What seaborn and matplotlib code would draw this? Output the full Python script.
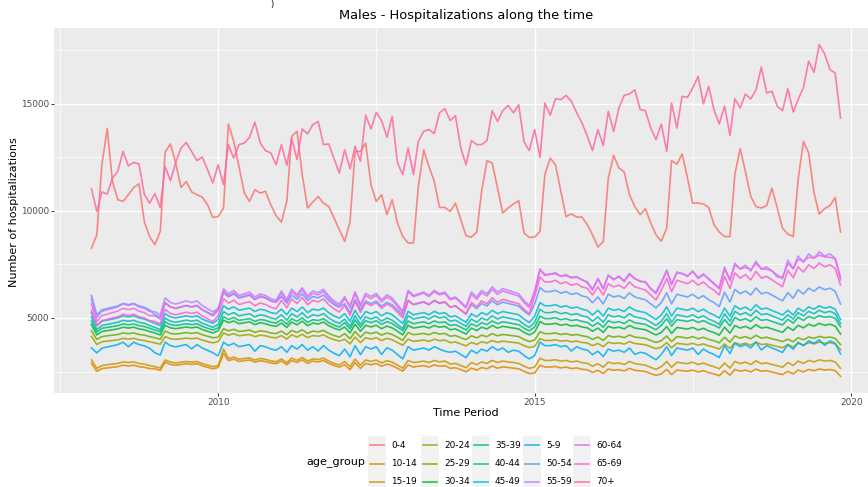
import numpy as np
import pandas as pd
import matplotlib
matplotlib.use("Agg")
import matplotlib.pyplot as plt
import matplotlib.dates as mdates
from matplotlib.patches import Rectangle
from matplotlib.lines import Line2D
import seaborn as sns

# ---------------- data ----------------
age_groups = ["0-4", "10-14", "15-19", "20-24", "25-29", "30-34", "35-39", "40-44",
              "45-49", "5-9", "50-54", "55-59", "60-64", "65-69", "70+"]
palette = ["#F8766D", "#E58700", "#C99800", "#A3A500", "#6BB100", "#00BA38", "#00BF7D",
           "#00C0AF", "#00BCD8", "#00B0F6", "#619CFF", "#B983FF", "#E76BF3", "#FD61D1", "#FF67A4"]

start_month = "2008-01-01"
n_months = 143

g_0_4 = [8260, 8880, 12150, 13830, 11370, 10520, 10440, 10750, 11090, 11260, 9500, 8800,
         8420, 9040, 12740, 13120, 12230, 11090, 11370, 10880, 10750, 10640, 10280, 9690,
         9730, 10130, 14050, 13240, 12070, 10830, 10440, 10980, 10830, 10910, 10280, 9780,
         9470, 10440, 13480, 13710, 11690, 10130, 10410, 10670, 10360, 10200, 9660, 9120,
         8570, 9500, 12770, 12770, 13160, 11220, 10440, 10750, 9820, 10520, 9430, 8800,
         8500, 8500, 11140, 12850, 12070, 11370, 10160, 10160, 9970, 10360, 9580, 8840,
         8770, 9010, 10910, 12340, 12230, 11060, 9900, 10130, 10320, 10470, 8960, 8760,
         8770, 9040, 11690, 12460, 12150, 10910, 9730, 9860, 9710, 9710, 9350, 8880,
         8310, 8570, 11530, 12590, 12000, 11810, 10750, 10200, 9820, 10100, 9430, 8880,
         8580, 9190, 12340, 12180, 12650, 11530, 10360, 10360, 10320, 10160, 9350, 9010,
         8800, 8800, 11690, 12900, 11840, 10670, 10200, 10130, 10250, 11060, 10130, 9190,
         8910, 8800, 11450, 13240, 12700, 10830, 9850, 10100, 10250, 10620, 9010]

g_70p = [11030, 9970, 10880, 10780, 11530, 11840, 12770, 12100, 12260, 12180, 10780, 10360,
         10800, 10160, 12070, 11400, 12260, 12930, 13190, 12770, 12340, 12510, 11920, 11300,
         12150, 11220, 13090, 12460, 13090, 13160, 13430, 14140, 13160, 12810, 12700, 12150,
         13090, 12120, 13370, 12390, 13820, 13590, 14020, 14170, 13090, 13120, 12430, 11760,
         12850, 11960, 13010, 12310, 14460, 13820, 14590, 14210, 13430, 14410, 12230, 11690,
         12930, 11690, 13240, 13710, 13790, 13600, 14570, 14770, 14210, 14440, 12930, 12150,
         13280, 13090, 13090, 13270, 14670, 14170, 14670, 14920, 14570, 14950, 13210, 12810,
         13790, 12490, 15030, 14460, 15230, 15190, 15390, 15110, 14570, 14100, 13480, 12810,
         13790, 13040, 14640, 13710, 14800, 15390, 15450, 15650, 14720, 14670, 13860, 13320,
         14050, 12770, 15030, 13860, 15340, 15300, 15730, 16270, 14990, 15810, 14720, 14050,
         14880, 13520, 15230, 14800, 15450, 15220, 15650, 16700, 15500, 15580, 14880, 14670,
         15700, 14610, 15190, 15760, 16980, 16460, 17760, 17320, 16590, 16430, 14330]

g_55_59 = [5880, 5020, 5310, 5380, 5450, 5520, 5660, 5590, 5660, 5520, 5450, 5310,
           5290, 5140, 5940, 5720, 5650, 5720, 5800, 5720, 5800, 5580, 5430, 5290,
           5440, 6360, 6130, 6290, 6050, 6130, 6210, 5980, 6130, 6050, 5900, 5820,
           6260, 5870, 6340, 6100, 6410, 6030, 6260, 6180, 6340, 6030, 5800, 5640,
           6000, 5470, 6230, 5620, 6150, 6000, 6150, 5850, 6080, 5930, 5620, 5320,
           6290, 6050, 6130, 6210, 6050, 6290, 6130, 6210, 5900, 5980, 5750, 5520,
           6210, 5970, 6290, 6130, 6450, 6210, 6370, 6290, 6210, 6130, 5810, 5580,
           6260, 7290, 7030, 7030, 7120, 6940, 7030, 6860, 6940, 6770, 6690, 6340,
           6820, 6390, 6990, 6820, 6910, 6740, 7080, 6820, 6740, 6650, 6390, 6130,
           6620, 7240, 6540, 7150, 7060, 6980, 7150, 6890, 7060, 6800, 6620, 6360,
           7380, 6730, 7560, 7280, 7470, 7190, 7650, 7280, 7380, 7190, 7010, 6820,
           7700, 7300, 7890, 7600, 7990, 7790, 8090, 7890, 7990, 7790, 6910]

g_60_64 = [5660, 4840, 5110, 5180, 5250, 5320, 5450, 5390, 5450, 5320, 5250, 5110,
           5100, 4950, 5730, 5520, 5450, 5520, 5590, 5520, 5590, 5380, 5240, 5100,
           5350, 6250, 6030, 6180, 5950, 6030, 6100, 5880, 6030, 5950, 5800, 5730,
           6150, 5770, 6230, 6000, 6310, 5930, 6150, 6080, 6230, 5930, 5700, 5550,
           5900, 5600, 6130, 5530, 6050, 5900, 6050, 5750, 5980, 5830, 5530, 5230,
           6230, 6000, 6080, 6150, 6000, 6230, 6080, 6150, 5850, 5930, 5700, 5470,
           6100, 5870, 6180, 6030, 6340, 6100, 6260, 6180, 6100, 6030, 5720, 5490,
           6210, 7230, 6980, 7060, 7060, 6960, 6980, 6900, 6890, 6800, 6640, 6300,
           6850, 6340, 7000, 6770, 6960, 6690, 7030, 6850, 6690, 6700, 6340, 6200,
           6700, 7190, 6600, 7100, 7080, 6930, 7200, 6840, 7010, 6850, 6570, 6420,
           7270, 6800, 7460, 7300, 7360, 7250, 7550, 7300, 7270, 7200, 6910, 6900,
           7540, 7300, 7730, 7650, 7830, 7800, 7930, 7850, 7830, 7760, 6780]

g_65_69 = [5360, 4640, 4880, 4940, 5000, 5060, 5180, 5120, 5180, 5060, 5000, 4880,
           4840, 4720, 5400, 5210, 5150, 5210, 5270, 5210, 5270, 5090, 4960, 4840,
           5100, 5900, 5700, 5830, 5630, 5700, 5760, 5570, 5700, 5630, 5500, 5430,
           5820, 5480, 5890, 5680, 5950, 5620, 5820, 5750, 5890, 5620, 5420, 5280,
           5580, 5130, 5780, 5260, 5710, 5580, 5710, 5450, 5650, 5520, 5260, 5000,
           5830, 5630, 5700, 5760, 5630, 5830, 5700, 5760, 5500, 5570, 5370, 5170,
           5730, 5530, 5800, 5670, 5940, 5730, 5870, 5800, 5730, 5670, 5400, 5200,
           6000, 6910, 6680, 6680, 6760, 6600, 6680, 6530, 6600, 6450, 6380, 6070,
           6450, 6070, 6600, 6450, 6530, 6380, 6680, 6450, 6380, 6300, 6070, 5840,
           6300, 6840, 6220, 6760, 6680, 6600, 6760, 6530, 6680, 6450, 6300, 6070,
           6940, 6380, 7100, 6860, 7020, 6780, 7180, 6860, 6940, 6780, 6620, 6460,
           7220, 6880, 7390, 7140, 7480, 7310, 7560, 7390, 7480, 7310, 6540]

g_50_54 = [6050, 5140, 5380, 5440, 5500, 5560, 5680, 5620, 5680, 5560, 5500, 5380,
           5150, 5030, 5690, 5510, 5450, 5510, 5570, 5510, 5570, 5390, 5270, 5150,
           5420, 6180, 5990, 6120, 5930, 5990, 6060, 5860, 5990, 5930, 5800, 5740,
           6000, 5690, 6070, 5880, 6130, 5810, 6000, 5940, 6070, 5810, 5620, 5500,
           5670, 5250, 5860, 5370, 5790, 5670, 5790, 5550, 5730, 5610, 5370, 5120,
           5800, 5620, 5680, 5740, 5620, 5800, 5680, 5740, 5500, 5560, 5380, 5200,
           5620, 5440, 5680, 5560, 5800, 5620, 5740, 5680, 5620, 5560, 5320, 5140,
           5640, 6420, 6230, 6230, 6290, 6160, 6230, 6100, 6160, 6030, 5970, 5710,
           5980, 5660, 6110, 5980, 6040, 5910, 6170, 5980, 5910, 5850, 5660, 5470,
           5720, 6170, 5660, 6110, 6040, 5980, 6110, 5910, 6040, 5850, 5720, 5530,
           6200, 5740, 6330, 6130, 6260, 6070, 6400, 6130, 6200, 6070, 5930, 5800,
           6180, 5920, 6320, 6120, 6390, 6250, 6450, 6320, 6390, 6250, 5650]

g_45_49 = [5250, 4650, 4850, 4900, 4950, 5000, 5100, 5050, 5100, 5000, 4950, 4850,
           4750, 4650, 5200, 5050, 5000, 5050, 5100, 5050, 5100, 4950, 4850, 4750,
           4930, 5570, 5410, 5520, 5360, 5410, 5460, 5300, 5410, 5360, 5250, 5200,
           5410, 5150, 5460, 5300, 5510, 5250, 5410, 5360, 5460, 5250, 5100, 4990,
           5200, 4850, 5360, 4950, 5300, 5200, 5300, 5100, 5250, 5150, 4950, 4740,
           5310, 5150, 5200, 5250, 5150, 5310, 5200, 5250, 5050, 5100, 4950, 4800,
           5200, 5050, 5250, 5150, 5360, 5200, 5300, 5250, 5200, 5150, 4950, 4790,
           5090, 5720, 5570, 5570, 5620, 5510, 5570, 5460, 5510, 5410, 5350, 5140,
           5360, 5090, 5460, 5360, 5410, 5300, 5520, 5360, 5300, 5250, 5090, 4930,
           5140, 5520, 5090, 5460, 5410, 5360, 5460, 5300, 5410, 5250, 5140, 4990,
           5460, 5090, 5570, 5410, 5510, 5350, 5620, 5410, 5460, 5350, 5250, 5140,
           5360, 5140, 5460, 5300, 5520, 5410, 5570, 5460, 5520, 5410, 4930]

g_40_44 = [5040, 4460, 4650, 4700, 4750, 4800, 4890, 4850, 4890, 4800, 4750, 4650,
           4560, 4460, 4990, 4850, 4800, 4850, 4900, 4850, 4900, 4750, 4660, 4560,
           4700, 5300, 5150, 5250, 5100, 5150, 5200, 5050, 5150, 5100, 5000, 4950,
           5150, 4900, 5200, 5050, 5250, 5000, 5150, 5100, 5200, 5000, 4850, 4750,
           4950, 4610, 5100, 4700, 5050, 4950, 5050, 4850, 5000, 4900, 4700, 4510,
           5100, 4950, 5000, 5050, 4950, 5100, 5000, 5050, 4850, 4900, 4750, 4610,
           4950, 4800, 5000, 4900, 5100, 4950, 5050, 5000, 4950, 4900, 4700, 4560,
           4800, 5400, 5250, 5250, 5300, 5200, 5250, 5150, 5200, 5100, 5050, 4850,
           5050, 4800, 5150, 5050, 5100, 5000, 5200, 5050, 5000, 4950, 4800, 4650,
           4850, 5200, 4800, 5150, 5100, 5050, 5150, 5000, 5100, 4950, 4850, 4700,
           5200, 4850, 5310, 5150, 5250, 5100, 5360, 5150, 5200, 5100, 5000, 4900,
           5150, 4950, 5250, 5100, 5310, 5200, 5360, 5250, 5310, 5200, 4740]

g_35_39 = [4850, 4350, 4520, 4560, 4600, 4640, 4720, 4680, 4720, 4640, 4600, 4520,
           4440, 4360, 4820, 4690, 4650, 4690, 4730, 4690, 4730, 4610, 4520, 4440,
           4540, 5060, 4930, 5020, 4890, 4930, 4970, 4840, 4930, 4890, 4800, 4760,
           4920, 4710, 4970, 4840, 5010, 4790, 4920, 4880, 4970, 4790, 4660, 4580,
           4780, 4490, 4910, 4570, 4870, 4780, 4870, 4700, 4830, 4740, 4570, 4410,
           4860, 4730, 4780, 4820, 4730, 4860, 4780, 4820, 4650, 4690, 4570, 4440,
           4730, 4610, 4780, 4690, 4860, 4730, 4820, 4780, 4730, 4690, 4520, 4400,
           4580, 5090, 4970, 4970, 5010, 4920, 4970, 4880, 4920, 4840, 4790, 4620,
           4780, 4570, 4870, 4780, 4830, 4740, 4910, 4780, 4740, 4700, 4570, 4450,
           4660, 4970, 4620, 4920, 4880, 4840, 4920, 4790, 4880, 4750, 4660, 4540,
           4930, 4630, 5020, 4890, 4970, 4840, 5060, 4890, 4930, 4840, 4760, 4670,
           4940, 4760, 5030, 4890, 5070, 4980, 5110, 5030, 5070, 4980, 4590]

g_30_34 = [4690, 4210, 4370, 4410, 4450, 4490, 4570, 4530, 4570, 4490, 4450, 4370,
           4300, 4210, 4660, 4540, 4500, 4540, 4580, 4540, 4580, 4460, 4380, 4300,
           4400, 4900, 4780, 4860, 4730, 4780, 4820, 4690, 4780, 4730, 4650, 4610,
           4760, 4560, 4810, 4680, 4850, 4640, 4760, 4720, 4810, 4640, 4520, 4440,
           4580, 4300, 4710, 4380, 4660, 4580, 4660, 4500, 4620, 4540, 4380, 4210,
           4650, 4530, 4570, 4610, 4530, 4650, 4570, 4610, 4450, 4490, 4370, 4250,
           4530, 4410, 4570, 4490, 4650, 4530, 4610, 4570, 4530, 4490, 4330, 4210,
           4340, 4830, 4710, 4710, 4750, 4660, 4710, 4620, 4660, 4580, 4540, 4380,
           4530, 4330, 4610, 4530, 4570, 4490, 4650, 4530, 4490, 4450, 4330, 4210,
           4320, 4600, 4280, 4560, 4520, 4480, 4560, 4440, 4520, 4400, 4320, 4200,
           4570, 4290, 4650, 4530, 4610, 4490, 4690, 4530, 4570, 4490, 4410, 4330,
           4580, 4420, 4660, 4540, 4710, 4620, 4750, 4660, 4710, 4620, 4250]

g_25_29 = [4400, 4000, 4130, 4170, 4200, 4230, 4300, 4270, 4300, 4230, 4200, 4130,
           4080, 4010, 4390, 4280, 4250, 4280, 4320, 4280, 4320, 4220, 4150, 4080,
           4100, 4500, 4400, 4470, 4370, 4400, 4440, 4330, 4400, 4370, 4300, 4270,
           4390, 4220, 4420, 4320, 4450, 4280, 4390, 4350, 4420, 4280, 4180, 4110,
           4270, 4030, 4370, 4100, 4340, 4270, 4340, 4200, 4300, 4230, 4100, 3960,
           4320, 4220, 4250, 4280, 4220, 4320, 4250, 4280, 4150, 4180, 4080, 3990,
           4170, 4070, 4200, 4130, 4270, 4170, 4230, 4200, 4170, 4130, 4000, 3900,
           3970, 4360, 4270, 4270, 4300, 4230, 4270, 4200, 4230, 4170, 4130, 4000,
           4110, 3950, 4180, 4110, 4150, 4080, 4210, 4110, 4080, 4050, 3950, 3860,
           3940, 4160, 3900, 4130, 4100, 4060, 4130, 4030, 4100, 4000, 3940, 3840,
           4100, 3870, 4160, 4060, 4130, 4030, 4190, 4060, 4100, 4030, 3970, 3900,
           4010, 3890, 4080, 3980, 4110, 4050, 4140, 4080, 4110, 4050, 3760]

g_20_24 = [4140, 3760, 3890, 3920, 3950, 3980, 4050, 4010, 4050, 3980, 3950, 3890,
           3840, 3780, 4130, 4030, 4000, 4030, 4060, 4030, 4060, 3970, 3900, 3840,
           3900, 4300, 4200, 4270, 4170, 4200, 4230, 4130, 4200, 4170, 4100, 4070,
           4180, 4020, 4210, 4110, 4240, 4080, 4180, 4150, 4210, 4080, 3990, 3920,
           4010, 3790, 4110, 3850, 4080, 4010, 4080, 3950, 4050, 3980, 3850, 3730,
           4010, 3910, 3940, 3970, 3910, 4010, 3940, 3970, 3850, 3880, 3790, 3700,
           3860, 3770, 3890, 3830, 3950, 3860, 3920, 3890, 3860, 3830, 3710, 3620,
           3680, 4040, 3950, 3950, 3980, 3920, 3950, 3890, 3920, 3860, 3830, 3710,
           3810, 3660, 3870, 3810, 3840, 3780, 3900, 3810, 3780, 3750, 3660, 3570,
           3640, 3850, 3610, 3820, 3790, 3760, 3820, 3730, 3790, 3700, 3640, 3550,
           3790, 3580, 3850, 3760, 3820, 3730, 3880, 3760, 3790, 3730, 3670, 3610,
           3760, 3640, 3820, 3730, 3850, 3790, 3880, 3820, 3850, 3790, 3520]

g_5_9 = [3600, 3370, 3590, 3650, 3700, 3760, 3870, 3660, 3870, 3760, 3700, 3590,
         3380, 3270, 3870, 3710, 3650, 3710, 3760, 3560, 3760, 3600, 3490, 3380,
         3230, 3870, 3710, 3820, 3660, 3710, 3760, 3450, 3710, 3660, 3550, 3500,
         3660, 3400, 3710, 3550, 3760, 3500, 3660, 3460, 3710, 3500, 3350, 3240,
         3550, 3190, 3710, 3290, 3660, 3550, 3660, 3300, 3610, 3500, 3290, 3090,
         3660, 3500, 3550, 3600, 3500, 3660, 3550, 3450, 3400, 3450, 3300, 3150,
         3500, 3350, 3550, 3450, 3660, 3500, 3600, 3400, 3500, 3450, 3250, 3090,
         3240, 3870, 3710, 3710, 3760, 3660, 3710, 3460, 3660, 3550, 3500, 3290,
         3450, 3200, 3550, 3450, 3500, 3400, 3600, 3300, 3400, 3350, 3200, 3050,
         3300, 3660, 3250, 3600, 3550, 3500, 3600, 3300, 3550, 3400, 3300, 3150,
         3710, 3340, 3820, 3660, 3760, 3600, 3870, 3510, 3710, 3600, 3500, 3390,
         3760, 3540, 3870, 3710, 3930, 3820, 3980, 3720, 3930, 3820, 3320]

g_15_19 = [3050, 2650, 2780, 2820, 2850, 2880, 2950, 2920, 2950, 2880, 2850, 2780,
           2730, 2660, 3040, 2940, 2900, 2940, 2970, 2940, 2970, 2870, 2800, 2730,
           2780, 3550, 3110, 3180, 3070, 3110, 3140, 3040, 3110, 3070, 3000, 2960,
           3090, 2920, 3130, 3020, 3160, 2990, 3090, 3060, 3130, 2990, 2880, 2810,
           2970, 2730, 3080, 2800, 3040, 2970, 3040, 2900, 3010, 2940, 2800, 2660,
           3020, 2920, 2950, 2990, 2920, 3020, 2950, 2990, 2850, 2880, 2780, 2680,
           2920, 2820, 2950, 2880, 3020, 2920, 2990, 2950, 2920, 2880, 2750, 2650,
           2710, 3120, 3020, 3020, 3050, 2990, 3020, 2950, 2990, 2920, 2880, 2750,
           2870, 2700, 2940, 2870, 2900, 2830, 2970, 2870, 2830, 2800, 2700, 2600,
           2730, 2970, 2700, 2940, 2900, 2870, 2940, 2830, 2900, 2800, 2730, 2630,
           2900, 2660, 2970, 2870, 2940, 2830, 3000, 2870, 2900, 2830, 2770, 2700,
           2920, 2780, 2990, 2880, 3020, 2950, 3050, 2990, 3020, 2950, 2650]

g_10_14 = [2890, 2510, 2640, 2670, 2700, 2730, 2800, 2760, 2800, 2730, 2700, 2640,
           2630, 2560, 2940, 2830, 2800, 2830, 2870, 2830, 2870, 2770, 2700, 2630,
           2690, 3350, 3010, 3080, 2970, 3010, 3040, 2940, 3010, 2970, 2900, 2870,
           2990, 2820, 3020, 2920, 3050, 2880, 2990, 2950, 3020, 2880, 2780, 2710,
           2820, 2590, 2920, 2650, 2880, 2820, 2880, 2750, 2850, 2780, 2650, 2520,
           2810, 2710, 2750, 2780, 2710, 2810, 2750, 2780, 2650, 2680, 2590, 2490,
           2660, 2570, 2690, 2630, 2760, 2660, 2720, 2690, 2660, 2630, 2510, 2410,
           2430, 2800, 2710, 2710, 2740, 2670, 2710, 2640, 2670, 2610, 2580, 2460,
           2560, 2410, 2620, 2560, 2590, 2530, 2650, 2560, 2530, 2500, 2410, 2320,
           2390, 2600, 2360, 2570, 2540, 2510, 2570, 2480, 2540, 2450, 2390, 2310,
           2540, 2330, 2600, 2510, 2570, 2480, 2620, 2510, 2540, 2480, 2420, 2360,
           2510, 2390, 2570, 2480, 2600, 2540, 2620, 2570, 2600, 2540, 2280]

series = {"0-4": g_0_4, "10-14": g_10_14, "15-19": g_15_19, "20-24": g_20_24,
          "25-29": g_25_29, "30-34": g_30_34, "35-39": g_35_39, "40-44": g_40_44,
          "45-49": g_45_49, "5-9": g_5_9, "50-54": g_50_54, "55-59": g_55_59,
          "60-64": g_60_64, "65-69": g_65_69, "70+": g_70p}

y_ticks = [5000, 10000, 15000]
x_tick_years = [2010, 2015, 2020]

# ---------------- build frame ----------------
dates = pd.date_range(start_month, periods=n_months, freq="MS")
frames = []
for g in age_groups:
    frames.append(pd.DataFrame({"date": dates, "age_group": g, "n": series[g]}))
df = pd.concat(frames, ignore_index=True)

# ---------------- figure ----------------
W, H = 868, 487
fig = plt.figure(figsize=(W / 100, H / 100), dpi=100)
fig.patch.set_facecolor("white")

def fx(x):
    return x / W

def fy(y):
    return 1 - y / H

ax = fig.add_axes([fx(54), fy(393), (878 - 54) / W, (393 - 28) / H])
ax.set_facecolor("#EBEBEB")

sns.lineplot(data=df, x="date", y="n", hue="age_group", hue_order=age_groups,
             palette=palette, legend=False, linewidth=1.2, alpha=0.85,
             estimator=None, errorbar=None, ax=ax)

# limits as ggplot (5% expansion)
d0, d1 = mdates.date2num(dates[0]), mdates.date2num(dates[-1])
span = d1 - d0
ax.set_xlim(d0 - 0.05 * span, d1 + 0.05 * span)
ax.set_ylim(1500, 18530)

ax.set_xticks([mdates.date2num(pd.Timestamp(f"{y}-01-01")) for y in x_tick_years])
ax.set_xticklabels([str(y) for y in x_tick_years])
ax.set_xticks([mdates.date2num(pd.Timestamp(s)) for s in ["2007-07-02", "2012-07-02", "2017-07-02"]],
              minor=True)
ax.set_yticks(y_ticks)
ax.set_yticklabels([str(v) for v in y_ticks])
ax.set_yticks([2500, 7500, 12500, 17500], minor=True)

ax.grid(which="major", color="white", linewidth=1.05)
ax.grid(which="minor", color="white", linewidth=0.5)
ax.set_axisbelow(True)
for s in ax.spines.values():
    s.set_visible(False)

ax.tick_params(axis="both", which="major", length=2.2, width=0.7, color="#333333",
               labelsize=6.4, labelcolor="#4D4D4D", pad=1.5)
ax.tick_params(axis="both", which="minor", length=0)

ax.set_xlabel("")
ax.set_ylabel("")

# titles
fig.text(fx(466), fy(16), "Males - Hospitalizations along the time",
         ha="center", va="center", fontsize=9.4, color="black")
fig.text(fx(466), fy(413), "Time Period", ha="center", va="center", fontsize=8, color="black")
fig.text(fx(14), fy(212), "Number of hospitalizations", ha="center", va="center",
         rotation=90, fontsize=8, color="black")
fig.text(fx(272), fy(5), ")", ha="center", va="center", fontsize=6, color="black")

# legend (ggplot-like, 5 columns x 3 rows)
key_x = [368, 421, 472, 523, 573]
row_y = [445, 463.5, 482]
key_w, key_h = 18, 18.5
fig.text(fx(306), fy(463.5), "age_group", ha="left", va="center", fontsize=8, color="black")
for c in range(5):
    fig.add_artist(Rectangle((fx(key_x[c]), fy(row_y[2] + key_h / 2)), key_w / W,
                             3 * key_h / H, transform=fig.transFigure,
                             facecolor="#F2F2F2", edgecolor="none"))
for k, g in enumerate(age_groups):
    c, r = k // 3, k % 3
    x0 = key_x[c]
    yy = fy(row_y[r])
    fig.add_artist(Line2D([fx(x0 + 2), fx(x0 + key_w - 2)], [yy, yy],
                          transform=fig.transFigure, color=palette[k],
                          linewidth=1.2, alpha=0.85))
    fig.text(fx(x0 + key_w + 5), yy, g, ha="left", va="center", fontsize=6.4, color="black")

fig.savefig("out.png", dpi=100)
